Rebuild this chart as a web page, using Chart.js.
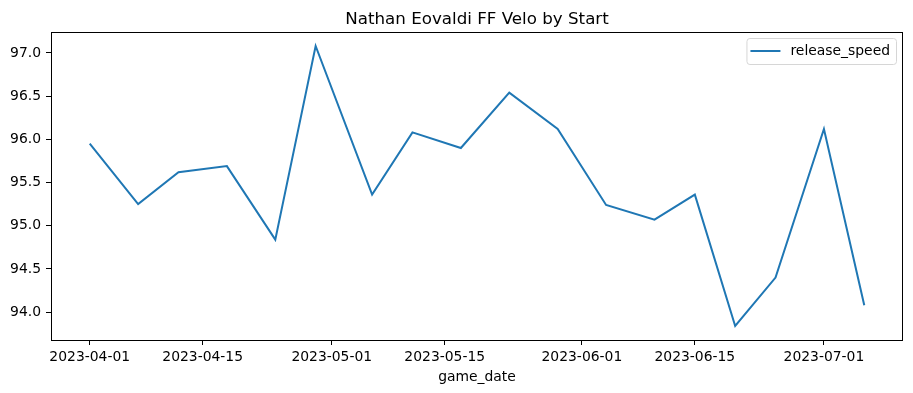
<!DOCTYPE html>
<html>
<head>
<meta charset="utf-8">
<script src="https://cdn.jsdelivr.net/npm/chart.js@4"></script>
<style>
html, body { margin: 0; padding: 0; background: #fff; }
</style>
</head>
<body>
<canvas id="velo" width="913" height="393"></canvas>
<script>
// data
const chartTitle = 'Nathan Eovaldi FF Velo by Start';
const seriesLabel = 'release_speed';
const xAxisLabel = 'game_date';
const gameDates = ['2023-04-01', '2023-04-07', '2023-04-12', '2023-04-18', '2023-04-24', '2023-04-29',
  '2023-05-06', '2023-05-11', '2023-05-17', '2023-05-23', '2023-05-29', '2023-06-04',
  '2023-06-10', '2023-06-15', '2023-06-20', '2023-06-25', '2023-07-01', '2023-07-06'];
const releaseSpeed = [95.95, 95.25, 95.62, 95.69, 94.84, 97.08,
  95.36, 96.08, 95.90, 96.54, 96.12, 95.24,
  95.07, 95.36, 93.84, 94.40, 96.12, 94.08];
const xTickLabels = ['2023-04-01', '2023-04-15', '2023-05-01', '2023-05-15', '2023-06-01', '2023-06-15', '2023-07-01'];
const yTickValues = [94.0, 94.5, 95.0, 95.5, 96.0, 96.5, 97.0];

// dates -> day numbers (no date adapter available)
const DAY = 86400000;
function toDay(s) {
  const p = s.split('-');
  return Date.UTC(+p[0], +p[1] - 1, +p[2]) / DAY;
}
function fromDay(d) {
  return new Date(Math.round(d) * DAY).toISOString().slice(0, 10);
}

const points = gameDates.map((d, i) => ({ x: toDay(d), y: releaseSpeed[i] }));

// matplotlib style 5% margins
const xs = points.map(p => p.x);
const xMin = Math.min(...xs), xMax = Math.max(...xs);
const yMin = Math.min(...releaseSpeed), yMax = Math.max(...releaseSpeed);
const xPad = (xMax - xMin) * 0.05, yPad = (yMax - yMin) * 0.05;

const FONT = '"DejaVu Sans", sans-serif';

// frame, title and legend box like matplotlib
const frameBox = {
  id: 'frameBox',
  afterDraw(chart) {
    const { ctx, chartArea: a } = chart;
    ctx.save();
    ctx.strokeStyle = '#000';
    ctx.lineWidth = 1;
    ctx.strokeRect(a.left + 0.5, a.top + 0.5, a.right - a.left - 1, a.bottom - a.top);

    ctx.fillStyle = '#000';
    ctx.font = '16.7px ' + FONT;
    ctx.textAlign = 'center';
    ctx.textBaseline = 'alphabetic';
    ctx.fillText(chartTitle, (a.left + a.right) / 2, 24);

    // legend
    ctx.font = '13.9px ' + FONT;
    const tw = ctx.measureText(seriesLabel).width;
    const boxRight = a.right - 7;
    const boxTop = a.top + 6;
    const textX = boxRight - 6 - tw;
    const lineEnd = textX - 10;
    const lineStart = lineEnd - 30;
    const boxLeft = lineStart - 4;
    const boxH = 26;
    const midY = boxTop + boxH / 2;
    ctx.beginPath();
    ctx.roundRect(boxLeft + 0.5, boxTop + 0.5, boxRight - boxLeft, boxH, 3);
    ctx.fillStyle = 'rgba(255,255,255,0.8)';
    ctx.fill();
    ctx.strokeStyle = '#d6d6d6';
    ctx.stroke();
    ctx.beginPath();
    ctx.moveTo(lineStart, midY);
    ctx.lineTo(lineEnd, midY);
    ctx.strokeStyle = '#1f77b4';
    ctx.lineWidth = 2;
    ctx.stroke();
    ctx.fillStyle = '#000';
    ctx.textAlign = 'left';
    ctx.textBaseline = 'middle';
    ctx.fillText(seriesLabel, textX, midY);
    ctx.restore();
  }
};

const ctx = document.getElementById('velo').getContext('2d');
new Chart(ctx, {
  type: 'line',
  data: {
    datasets: [{
      label: seriesLabel,
      data: points,
      borderColor: '#1f77b4',
      borderWidth: 2,
      pointRadius: 0,
      tension: 0,
      fill: false
    }]
  },
  options: {
    responsive: false,
    animation: false,
    devicePixelRatio: 1,
    layout: { padding: { top: 32, right: 10, left: 0, bottom: 0 } },
    plugins: {
      legend: { display: false },
      title: { display: false },
      tooltip: { enabled: false }
    },
    scales: {
      x: {
        type: 'linear',
        min: xMin - xPad,
        max: xMax + xPad,
        afterFit(scale) { scale.height = 53; },
        afterBuildTicks(scale) { scale.ticks = xTickLabels.map(t => ({ value: toDay(t) })); },
        grid: { drawOnChartArea: false, drawTicks: true, tickLength: 5, tickColor: '#000', tickWidth: 1 },
        border: { display: false },
        ticks: {
          color: '#000',
          padding: 4,
          maxRotation: 0,
          autoSkip: false,
          font: { family: FONT, size: 13.9 },
          callback: v => fromDay(v)
        },
        title: {
          display: true,
          text: xAxisLabel,
          color: '#000',
          font: { family: FONT, size: 13.9 },
          padding: { top: 0, bottom: 7 }
        }
      },
      y: {
        min: yMin - yPad,
        max: yMax + yPad,
        afterFit(scale) { scale.width = 51; },
        afterBuildTicks(scale) { scale.ticks = yTickValues.map(v => ({ value: v })); },
        grid: { drawOnChartArea: false, drawTicks: true, tickLength: 5, tickColor: '#000', tickWidth: 1 },
        border: { display: false },
        ticks: {
          color: '#000',
          padding: 5,
          font: { family: FONT, size: 13.9 },
          callback: v => v.toFixed(1)
        }
      }
    }
  },
  plugins: [frameBox]
});
</script>
</body>
</html>
